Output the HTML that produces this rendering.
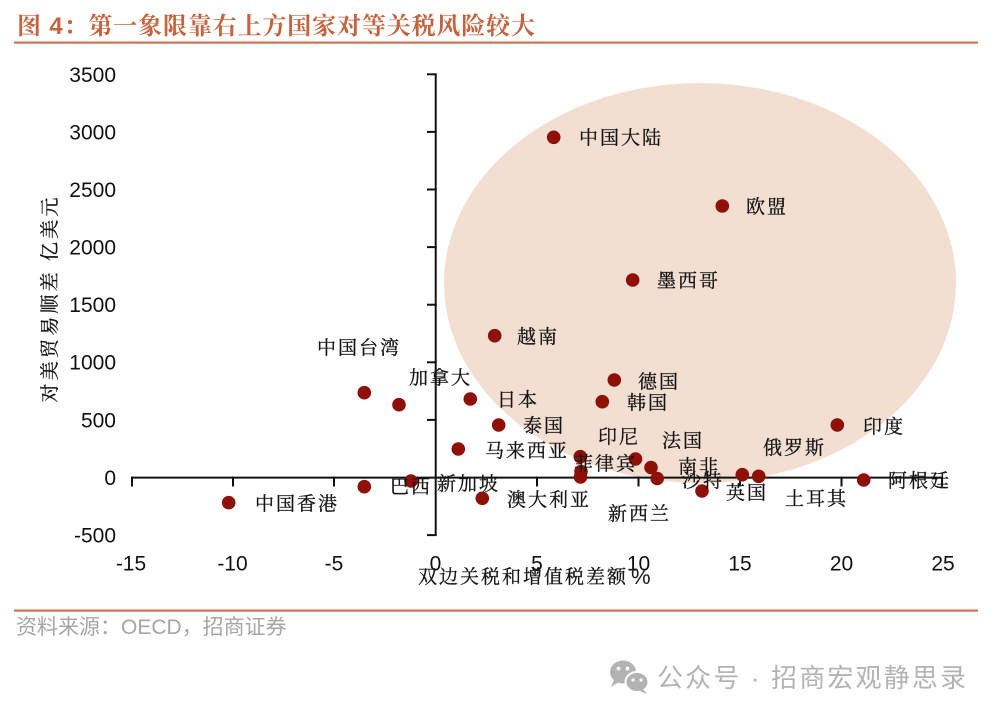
<!DOCTYPE html>
<html>
<head>
<meta charset="utf-8">
<style>
  html, body { margin: 0; padding: 0; background: #ffffff; }
  #wrap { position: relative; width: 998px; height: 718px; overflow: hidden; background: #ffffff; }
  svg { position: absolute; left: 0; top: 0; }
  .lbl { font-family: "Noto Serif CJK SC", "Liberation Serif", serif; font-size: 19px; letter-spacing: 2px; fill: #141414; stroke: #141414; stroke-width: 0.3px; }
  .tick { font-family: "Liberation Sans", Arial, sans-serif; font-size: 21px; fill: #111111; }
</style>
</head>
<body>
<div id="wrap">
<svg width="998" height="718" viewBox="0 0 998 718" xmlns="http://www.w3.org/2000/svg">
  <!-- Title -->
  <text x="17" y="34" textLength="518" lengthAdjust="spacing" font-family="Liberation Sans, Noto Serif CJK SC, serif" font-weight="bold" font-size="24" fill="#c4643f">图 4：第一象限靠右上方国家对等关税风险较大</text>
  <rect x="14" y="41.5" width="964" height="2.2" fill="#cc7352"/>

  <!-- Highlight ellipse -->
  <ellipse cx="700" cy="283" rx="256" ry="200" fill="#f3dfd2"/>

  <!-- Axes -->
  <g stroke="#111111" stroke-width="2" fill="none">
    <line x1="435.7" y1="74.3" x2="435.7" y2="535.1"/>
    <line x1="427" y1="74.3" x2="436.7" y2="74.3"/>
    <line x1="427" y1="131.9" x2="436.7" y2="131.9"/>
    <line x1="427" y1="189.5" x2="436.7" y2="189.5"/>
    <line x1="427" y1="247.1" x2="436.7" y2="247.1"/>
    <line x1="427" y1="304.7" x2="436.7" y2="304.7"/>
    <line x1="427" y1="362.3" x2="436.7" y2="362.3"/>
    <line x1="427" y1="419.9" x2="436.7" y2="419.9"/>
    <line x1="427" y1="535.1" x2="436.7" y2="535.1"/>
    <line x1="131" y1="477.6" x2="943" y2="477.6"/>
    <line x1="132" y1="476.6" x2="132" y2="486.5"/>
    <line x1="233" y1="476.6" x2="233" y2="486.5"/>
    <line x1="334" y1="476.6" x2="334" y2="486.5"/>
    <line x1="537" y1="476.6" x2="537" y2="486.5"/>
    <line x1="638.5" y1="476.6" x2="638.5" y2="486.5"/>
    <line x1="740" y1="476.6" x2="740" y2="486.5"/>
    <line x1="841.5" y1="476.6" x2="841.5" y2="486.5"/>
    <line x1="942" y1="476.6" x2="942" y2="486.5"/>
  </g>

  <!-- Y tick labels -->
  <g class="tick" text-anchor="end">
    <text x="116" y="82">3500</text>
    <text x="116" y="139.5">3000</text>
    <text x="116" y="197">2500</text>
    <text x="116" y="254.5">2000</text>
    <text x="116" y="312">1500</text>
    <text x="116" y="369.5">1000</text>
    <text x="116" y="427.5">500</text>
    <text x="116" y="485">0</text>
    <text x="116" y="542.5">-500</text>
  </g>
  <!-- X tick labels -->
  <g class="tick" text-anchor="middle">
    <text x="131" y="570.5">-15</text>
    <text x="232.5" y="570.5">-10</text>
    <text x="334" y="570.5">-5</text>
    <text x="435.5" y="570.5">0</text>
    <text x="537" y="570.5">5</text>
    <text x="638.5" y="570.5">10</text>
    <text x="740" y="570.5">15</text>
    <text x="841.5" y="570.5">20</text>
    <text x="943" y="570.5">25</text>
  </g>

  <!-- Axis titles -->
  <text class="lbl" x="418" y="583">双边关税和增值税差额</text>
  <text x="631" y="584" font-family="Liberation Sans, sans-serif" font-size="22" fill="#1a1a1a">%</text>
  <text transform="translate(56,300) rotate(-90)" text-anchor="middle" x="0" y="0" textLength="205" lengthAdjust="spacing" font-family="Noto Serif CJK SC, serif" font-size="19" fill="#141414" stroke="#141414" stroke-width="0.3">对美贸易顺差 亿美元</text>

  <!-- Data points -->
  <g fill="#8e1006">
    <circle cx="553.7" cy="137.3" r="6.8"/>
    <circle cx="722.3" cy="206" r="6.8"/>
    <circle cx="632.7" cy="280" r="6.8"/>
    <circle cx="494.7" cy="335.7" r="6.8"/>
    <circle cx="364.3" cy="392.7" r="6.8"/>
    <circle cx="399" cy="404.7" r="6.8"/>
    <circle cx="470.3" cy="399" r="6.8"/>
    <circle cx="614.3" cy="380" r="6.8"/>
    <circle cx="602.3" cy="401.7" r="6.8"/>
    <circle cx="498.7" cy="425" r="6.8"/>
    <circle cx="458.3" cy="449" r="6.8"/>
    <circle cx="837.3" cy="425" r="6.8"/>
    <circle cx="580.3" cy="456.7" r="6.8"/>
    <circle cx="581" cy="471.5" r="6.8"/>
    <circle cx="580.5" cy="477" r="6.8"/>
    <circle cx="635.5" cy="459" r="6.8"/>
    <circle cx="651" cy="467.5" r="6.8"/>
    <circle cx="657.2" cy="478.5" r="6.8"/>
    <circle cx="702" cy="491" r="6.8"/>
    <circle cx="742.3" cy="474.7" r="6.8"/>
    <circle cx="758.7" cy="476.3" r="6.8"/>
    <circle cx="863.7" cy="480" r="6.8"/>
    <circle cx="482.3" cy="498.3" r="6.8"/>
    <circle cx="364.3" cy="486.7" r="6.8"/>
    <circle cx="411" cy="481" r="6.8"/>
    <circle cx="228.7" cy="502.7" r="6.8"/>
  </g>

  <!-- Data labels -->
  <g class="lbl">
    <text x="579" y="144">中国大陆</text>
    <text x="746" y="213">欧盟</text>
    <text x="657" y="287">墨西哥</text>
    <text x="517" y="343">越南</text>
    <text x="317" y="354">中国台湾</text>
    <text x="409" y="384">加拿大</text>
    <text x="497" y="406">日本</text>
    <text x="638" y="388">德国</text>
    <text x="627" y="409">韩国</text>
    <text x="523" y="432">泰国</text>
    <text x="485" y="457">马来西亚</text>
    <text x="598" y="443">印尼</text>
    <text x="662" y="447">法国</text>
    <text x="574" y="470">菲律宾</text>
    <text x="678" y="473">南非</text>
    <text x="437" y="490">新加坡</text>
    <text x="390" y="493">巴西</text>
    <text x="507" y="506">澳大利亚</text>
    <text x="608" y="520">新西兰</text>
    <text x="255" y="510">中国香港</text>
    <text x="863" y="433">印度</text>
    <text x="763" y="454">俄罗斯</text>
    <text x="682" y="487">沙特</text>
    <text x="726" y="499">英国</text>
    <text x="785" y="505">土耳其</text>
    <text x="888" y="487">阿根廷</text>
  </g>

  <!-- Bottom separator and source -->
  <rect x="14" y="609.5" width="964" height="2.2" fill="#cc7352"/>
  <text x="16" y="634" font-family="Liberation Sans, Noto Sans CJK SC, sans-serif" font-size="21" fill="#a6a6a6">资料来源：OECD，招商证券</text>

  <!-- Watermark -->
  <g fill="#b3b3b3">
    <ellipse cx="623" cy="672" rx="13" ry="11.5"/>
    <path d="M614 680 L611 687 L619 682 Z"/>
    <ellipse cx="637" cy="682" rx="11.5" ry="10" stroke="#ffffff" stroke-width="2"/>
    <path d="M643 689 L647 694 L640 691 Z"/>
  </g>
  <g fill="#ffffff">
    <circle cx="618.5" cy="668.5" r="1.9"/>
    <circle cx="627.5" cy="668.5" r="1.9"/>
    <circle cx="633" cy="680" r="1.6"/>
    <circle cx="641" cy="680" r="1.6"/>
  </g>
  <text x="657" y="687" textLength="309" lengthAdjust="spacing" font-family="Liberation Sans, Noto Sans CJK SC, sans-serif" font-size="26" fill="#b3b3b3">公众号 · 招商宏观静思录</text>
</svg>
</div>
</body>
</html>
